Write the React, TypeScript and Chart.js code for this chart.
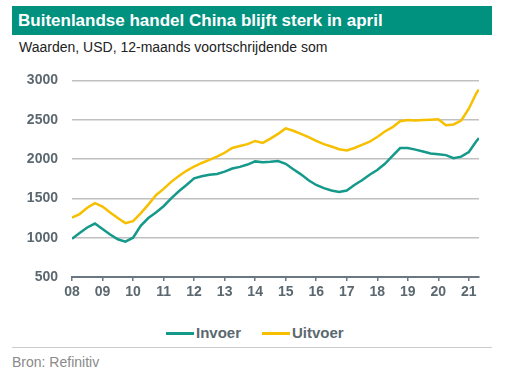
import React, { useEffect, useRef } from "react";
import { Chart, registerables } from "chart.js";

Chart.register(...registerables);

const quarters = [
  2008.0, 2008.25, 2008.5, 2008.75, 2009.0, 2009.25, 2009.5, 2009.75,
  2010.0, 2010.25, 2010.5, 2010.75, 2011.0, 2011.25, 2011.5, 2011.75,
  2012.0, 2012.25, 2012.5, 2012.75, 2013.0, 2013.25, 2013.5, 2013.75,
  2014.0, 2014.25, 2014.5, 2014.75, 2015.0, 2015.25, 2015.5, 2015.75,
  2016.0, 2016.25, 2016.5, 2016.75, 2017.0, 2017.25, 2017.5, 2017.75,
  2018.0, 2018.25, 2018.5, 2018.75, 2019.0, 2019.25, 2019.5, 2019.75,
  2020.0, 2020.25, 2020.5, 2020.75, 2021.0, 2021.25, 2021.333,
];

const invoer = [
  985, 1060, 1130, 1180, 1110, 1040, 980, 950,
  1000, 1150, 1250, 1320, 1400, 1500, 1590, 1670,
  1755, 1780, 1800, 1810, 1840, 1880, 1900, 1930,
  1970, 1960, 1965, 1975, 1940, 1870, 1805, 1730,
  1670, 1630, 1600, 1580, 1600, 1670, 1730, 1800,
  1860, 1940, 2040, 2140, 2140, 2120, 2095, 2070,
  2060, 2050, 2010, 2030, 2090, 2230, 2265,
];

const uitvoer = [
  1255, 1300, 1380, 1440, 1395, 1320, 1250, 1185,
  1210, 1310, 1420, 1540, 1620, 1710, 1785, 1850,
  1905, 1950, 1990, 2030, 2080, 2140, 2165, 2190,
  2230, 2205, 2260, 2320, 2390, 2360, 2320, 2280,
  2230, 2190, 2160, 2125, 2110, 2140, 2180, 2220,
  2280, 2350, 2405, 2480, 2495, 2490, 2495, 2500,
  2505, 2430, 2440, 2490, 2640, 2840, 2885,
];

const seriesNames = ["Invoer", "Uitvoer"];
const yTicks = [500, 1000, 1500, 2000, 2500, 3000];

const TEAL = "#14998a";
const YELLOW = "#f6bf00";
const AXIS_TEXT = "#5c6870";
const FONT = "'Liberation Sans', Arial, sans-serif";

export default function App() {
  const ref = useRef<HTMLCanvasElement>(null);

  useEffect(() => {
    const canvas = ref.current;
    if (!canvas) return;
    const chart = new Chart(canvas, {
      type: "line",
      data: {
        datasets: [
          {
            label: seriesNames[0],
            data: quarters.map((q, i) => ({ x: q, y: invoer[i] })),
            borderColor: TEAL,
            backgroundColor: TEAL,
            borderWidth: 2.5,
            pointRadius: 0,
            tension: 0,
          },
          {
            label: seriesNames[1],
            data: quarters.map((q, i) => ({ x: q, y: uitvoer[i] })),
            borderColor: YELLOW,
            backgroundColor: YELLOW,
            borderWidth: 2.5,
            pointRadius: 0,
            tension: 0,
          },
        ],
      },
      options: {
        animation: false,
        responsive: false,
        maintainAspectRatio: false,
        layout: { padding: { top: 15, right: 45, left: 0, bottom: 5 } },
        plugins: {
          tooltip: { enabled: false },
          legend: { display: false },
        },
        scales: {
          x: {
            type: "linear",
            min: 2008,
            max: 2021.333,
            afterFit: (s) => {
              s.height = 28;
            },
            grid: {
              display: true,
              drawOnChartArea: false,
              drawTicks: true,
              tickLength: 4,
              color: "#6b7780",
              lineWidth: 1.5,
            },
            border: { display: true, color: "#6b7780", width: 2 },
            ticks: {
              stepSize: 1,
              includeBounds: false,
              autoSkip: false,
              maxRotation: 0,
              padding: 3,
              color: AXIS_TEXT,
              font: { family: FONT, size: 14, weight: "bold" },
              callback: (v) => String(Math.round(Number(v)) - 2000).padStart(2, "0"),
            },
          },
          y: {
            min: 500,
            max: 3000,
            afterFit: (s) => {
              s.width = 72;
            },
            afterBuildTicks: (s) => {
              s.ticks = yTicks.map((v) => ({ value: v }));
            },
            grid: {
              color: (ctx) => (ctx.tick && ctx.tick.value === 500 ? "rgba(0,0,0,0)" : "#c0c0c0"),
              lineWidth: 1.5,
              drawTicks: false,
            },
            border: { display: false },
            ticks: {
              padding: 14,
              color: AXIS_TEXT,
              font: { family: FONT, size: 14, weight: "bold" },
              callback: (v) => String(v),
            },
          },
        },
      },
    });
    return () => chart.destroy();
  }, []);

  const legendItem = (name: string, color: string, left: number) => (
    <div
      style={{
        position: "absolute",
        left,
        top: 324,
        height: 18,
        display: "flex",
        alignItems: "center",
      }}
    >
      <div style={{ width: 28, height: 3, background: color, marginRight: 2 }} />
      <span style={{ fontSize: 15, fontWeight: "bold", color: AXIS_TEXT, lineHeight: "18px" }}>
        {name}
      </span>
    </div>
  );

  return (
    <div
      style={{
        position: "fixed",
        left: 0,
        top: 0,
        width: 524,
        height: 380,
        background: "#fff",
        fontFamily: FONT,
      }}
    >
      <div
        style={{
          position: "absolute",
          left: 12,
          top: 6,
          width: 480,
          height: 29,
          background: "#00917f",
          color: "#fff",
          fontWeight: "bold",
          fontSize: 17,
          lineHeight: "29px",
          paddingLeft: 6,
          boxSizing: "border-box",
        }}
      >
        Buitenlandse handel China blijft sterk in april
      </div>
      <div
        style={{
          position: "absolute",
          left: 19,
          top: 39,
          fontSize: 14,
          lineHeight: "17px",
          color: "#222",
        }}
      >
        Waarden, USD, 12-maands voortschrijdende som
      </div>
      <canvas
        ref={ref}
        width={524}
        height={252}
        style={{ position: "absolute", left: 0, top: 58, width: 524, height: 252 }}
      />
      {legendItem(seriesNames[0], TEAL, 166)}
      {legendItem(seriesNames[1], YELLOW, 262)}
      <div
        style={{
          position: "absolute",
          left: 12,
          top: 347,
          width: 480,
          height: 1,
          background: "#cccccc",
        }}
      />
      <div
        style={{
          position: "absolute",
          left: 12,
          top: 354,
          fontSize: 14,
          lineHeight: "16px",
          color: "#8a8a8a",
        }}
      >
        Bron: Refinitiv
      </div>
    </div>
  );
}
